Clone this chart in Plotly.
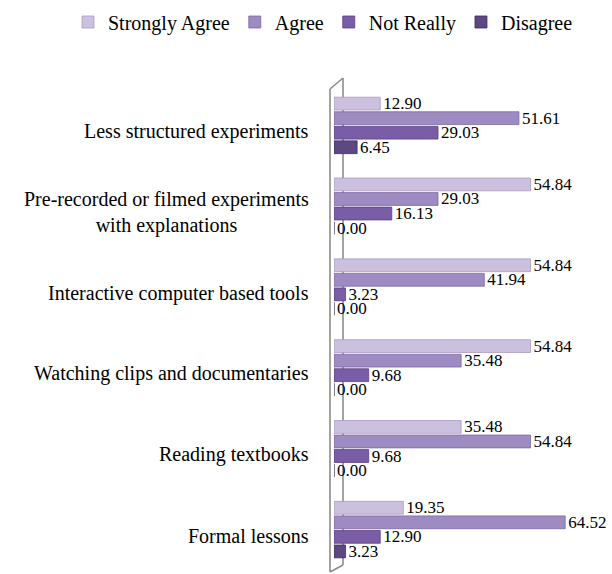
import plotly.graph_objects as go

categories = [
    "Less structured experiments",
    "Pre-recorded or filmed experiments<br>with explanations",
    "Interactive computer based tools",
    "Watching clips and documentaries",
    "Reading textbooks",
    "Formal lessons",
]
series_names = ["Strongly Agree", "Agree", "Not Really", "Disagree"]
strongly_agree = [12.90, 54.84, 54.84, 54.84, 35.48, 19.35]
agree = [51.61, 29.03, 41.94, 35.48, 54.84, 64.52]
not_really = [29.03, 16.13, 3.23, 9.68, 9.68, 12.90]
disagree = [6.45, 0.00, 0.00, 0.00, 0.00, 3.23]
series_values = [strongly_agree, agree, not_really, disagree]
colors = ["#CBC1DE", "#9E8BC2", "#7A5DA7", "#5D4881"]
line_colors = ["#A99CC2", "#7D6AA3", "#5A3F86", "#402E60"]

W, H = 612, 574
ML, MR, MT, MB = 334, 20, 85, 4
PW = W - ML - MR
PH = H - MT - MB


def px_x(p):
    return (p - ML) / PW


def px_y(p):
    return (H - MB - p) / PH


fig = go.Figure()
for name, vals, c, lc in zip(series_names, series_values, colors, line_colors):
    fig.add_trace(go.Bar(
        name=name,
        y=categories,
        x=vals,
        orientation="h",
        marker=dict(color=c, line=dict(color=lc, width=0.8)),
        text=[f"{v:.2f}" for v in vals],
        textposition="outside",
        textfont=dict(family="Liberation Serif", size=17, color="#000000"),
        constraintext="none",
        cliponaxis=False,
    ))

# 3D wall outline
wall = [
    (330, 89, 330, 572),
    (343, 78, 343, 565),
    (330, 89, 343, 78),
    (330, 572, 343, 565),
]
shapes = []
for x0, y0, x1, y1 in wall:
    shapes.append(dict(type="line", xref="paper", yref="paper",
                       x0=px_x(x0), y0=px_y(y0), x1=px_x(x1), y1=px_y(y1),
                       line=dict(color="#8C8C8C", width=1.6), layer="below"))

annotations = []
for cat in categories:
    annotations.append(dict(
        x=px_x(311), xref="paper", y=cat, yref="y",
        text=cat, showarrow=False, xanchor="right", align="center",
        yshift=-6,
        font=dict(family="Liberation Serif", size=20, color="#000000"),
    ))

fig.update_layout(
    width=W, height=H,
    margin=dict(l=ML, r=MR, t=MT, b=MB, autoexpand=False),
    paper_bgcolor="white", plot_bgcolor="white",
    font=dict(family="Liberation Serif", size=17, color="#000000"),
    barmode="group",
    bargap=0.28,
    bargroupgap=0.12,
    shapes=shapes,
    annotations=annotations,
    showlegend=True,
    legend=dict(orientation="h", x=px_x(68), xanchor="left",
                y=px_y(22), yanchor="middle",
                font=dict(family="Liberation Serif", size=20),
                traceorder="normal", itemwidth=30),
    xaxis=dict(range=[0, 72], visible=False),
    yaxis=dict(autorange="reversed", showticklabels=False, showgrid=False,
               zeroline=False, showline=False, ticks=""),
)

fig.write_html("out.html",
               config={"displayModeBar": False},
               post_script="document.body.style.margin='0';"
                           "document.body.style.padding='0';")
